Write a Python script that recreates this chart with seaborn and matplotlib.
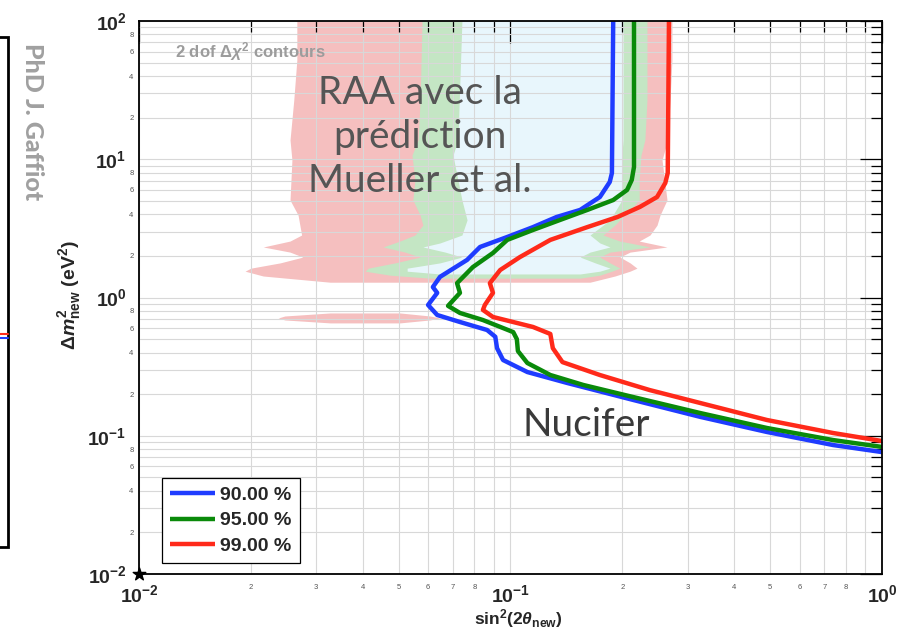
import numpy as np
import pandas as pd
import matplotlib
matplotlib.use("Agg")
import matplotlib.pyplot as plt
import seaborn as sns
from matplotlib.lines import Line2D
from matplotlib.patches import Rectangle

# ---------------- data ----------------
x_lim = [0.01, 1.0]
y_lim = [0.01, 100.0]

# exclusion curves (Nucifer)
cl_labels = ["90.00 %", "95.00 %", "99.00 %"]
cl_colors = ["#1f3cff", "#0a8a0a", "#ff2a1a"]

c90_x = [0.189, 0.1875, 0.185, 0.174, 0.154, 0.133, 0.115, 0.098, 0.0828, 0.0764, 0.0646, 0.0618,
         0.0635, 0.060, 0.0635, 0.0731, 0.0865, 0.091, 0.092, 0.0955, 0.111, 0.142, 0.214, 0.324,
         0.49, 0.738, 1.0]
c90_y = [100, 7.95, 6.85, 5.33, 4.30, 3.82, 3.23, 2.74, 2.32, 1.87, 1.41, 1.19, 1.08, 0.883,
         0.747, 0.665, 0.582, 0.52, 0.43, 0.353, 0.289, 0.241, 0.1815, 0.137, 0.1065, 0.0857, 0.0762]

c95_x = [0.215, 0.215, 0.212, 0.206, 0.189, 0.161, 0.136, 0.115, 0.098, 0.0897, 0.0792, 0.0718,
         0.0731, 0.0679, 0.0731, 0.0843, 0.1017, 0.1040, 0.1047, 0.111, 0.128, 0.157, 0.214, 0.324,
         0.49, 0.738, 1.0]
c95_y = [100, 8.8, 7.08, 6.0, 5.07, 4.30, 3.64, 3.08, 2.61, 2.10, 1.66, 1.27, 1.08, 0.870, 0.773,
         0.687, 0.562, 0.50, 0.41, 0.336, 0.275, 0.233, 0.1905, 0.146, 0.1138, 0.0931, 0.083]

c99_x = [0.267, 0.265, 0.261, 0.248, 0.223, 0.194, 0.161, 0.128, 0.106, 0.0938, 0.088, 0.0897,
         0.0853, 0.0843, 0.0897, 0.115, 0.1280, 0.130, 0.138, 0.174, 0.237, 0.324, 0.49, 0.738, 1.0]
c99_y = [100, 7.95, 6.73, 5.33, 4.52, 3.82, 3.23, 2.61, 1.96, 1.58, 1.27, 1.08, 0.883, 0.813,
         0.723, 0.612, 0.545, 0.43, 0.341, 0.275, 0.214, 0.1726, 0.130, 0.1047, 0.0916]

# RAA allowed regions (2 dof contours): y levels with left / right edges
raa99_y = [100, 52.2, 26.8, 13.8, 9.88, 5.07, 3.95, 3.34, 2.83, 2.56, 2.32, 2.13, 1.96, 1.78,
           1.63, 1.55, 1.43, 1.29]
raa99_left = [0.0266, 0.0266, 0.0261, 0.0255, 0.0258, 0.0255, 0.0268, 0.0271, 0.0274, 0.0255,
              0.0216, 0.0255, 0.0276, 0.0240, 0.0200, 0.0193, 0.0216, 0.0327]
raa99_right = [0.272, 0.272, 0.2688, 0.265, 0.2558, 0.2638, 0.2527, 0.248, 0.2374, 0.222, 0.2638,
               0.2098, 0.197, 0.2098, 0.219, 0.2098, 0.191, 0.1637]

raa95_y = [100, 26.8, 13.8, 10.7, 7.08, 5.07, 3.95, 3.34, 2.83, 2.56, 2.32, 2.13, 1.96, 1.78,
           1.63, 1.55, 1.45, 1.38]
raa95_left = [0.0578, 0.0571, 0.0564, 0.0543, 0.0553, 0.0546, 0.0571, 0.0581, 0.0553, 0.0504,
              0.0454, 0.052, 0.0571, 0.0489, 0.0414, 0.0406, 0.0474, 0.0607]
raa95_right = [0.233, 0.233, 0.230, 0.2245, 0.222, 0.222, 0.203, 0.191, 0.1775, 0.197, 0.2374,
               0.1853, 0.174, 0.1853, 0.197, 0.1875, 0.174, 0.154]

raa68_y = [100, 13.8, 10.7, 5.07, 3.64, 2.83, 2.48, 2.32, 2.13, 1.96, 1.78, 1.63, 1.55, 1.48]
raa68_left = [0.0740, 0.0722, 0.070, 0.0740, 0.0764, 0.0740, 0.0646, 0.0581, 0.0667, 0.0740,
              0.0646, 0.0527, 0.0527, 0.0646]
raa68_right = [0.2009, 0.2009, 0.1995, 0.1995, 0.1853, 0.1637, 0.174, 0.1853, 0.1637, 0.154,
               0.169, 0.1853, 0.174, 0.154]

island99_y = [0.773, 0.735, 0.711, 0.688, 0.655]
island99_left = [0.0327, 0.0247, 0.0237, 0.0247, 0.0327]
island99_right = [0.0504, 0.0607, 0.0646, 0.0607, 0.0504]

# ticks
x_major = [0.01, 0.1, 1.0]
x_major_labels = [r"$\mathbf{10^{-2}}$", r"$\mathbf{10^{-1}}$", r"$\mathbf{10^{0}}$"]
y_major = [0.01, 0.1, 1.0, 10.0, 100.0]
y_major_labels = [r"$\mathbf{10^{-2}}$", r"$\mathbf{10^{-1}}$", r"$\mathbf{10^{0}}$",
                  r"$\mathbf{10^{1}}$", r"$\mathbf{10^{2}}$"]
minor_digits = [2, 3, 4, 5, 6, 7, 8, 9]
x_minor_shown = [2, 3, 4, 5, 6, 7, 8]
y_minor_shown = [2, 4, 6, 8]

# ---------------- style ----------------
sns.set_style("white")
plt.rcParams['font.family'] = ['Liberation Sans', 'DejaVu Sans']
plt.rcParams['mathtext.fontset'] = 'custom'
plt.rcParams['mathtext.rm'] = 'Liberation Sans:bold'
plt.rcParams['mathtext.bf'] = 'Liberation Sans:bold'
plt.rcParams['mathtext.it'] = 'Liberation Sans:italic:bold'
plt.rcParams['mathtext.sf'] = 'Liberation Sans:bold'

fig = plt.figure(figsize=(9.03, 6.35), dpi=100)
ax = fig.add_axes([139 / 903, 1 - 574 / 635, 743 / 903, 553 / 635])
ax.set_xscale('log')
ax.set_yscale('log')

# allowed regions
ax.fill_betweenx(raa99_y, raa99_left, raa99_right, color='#f5bfbf', lw=0, zorder=1)
ax.fill_betweenx(island99_y, island99_left, island99_right, color='#f5bfbf', lw=0, zorder=1)
ax.fill_betweenx(raa95_y, raa95_left, raa95_right, color='#c4e6c4', lw=0, zorder=1.1)
ax.fill_betweenx(raa68_y, raa68_left, raa68_right, color='#e8f6fc', lw=0, zorder=1.2)

# exclusion curves
df = pd.concat([
    pd.DataFrame({'x': c90_x, 'y': c90_y, 'cl': cl_labels[0]}),
    pd.DataFrame({'x': c95_x, 'y': c95_y, 'cl': cl_labels[1]}),
    pd.DataFrame({'x': c99_x, 'y': c99_y, 'cl': cl_labels[2]}),
], ignore_index=True)
sns.lineplot(data=df, x='x', y='y', hue='cl', palette=dict(zip(cl_labels, cl_colors)),
             sort=False, estimator=None, lw=3.2, ax=ax, zorder=3)
for ln in ax.get_lines():
    ln.set_solid_joinstyle('round')
    ln.set_solid_capstyle('butt')

ax.set_xlim(x_lim)
ax.set_ylim(y_lim)
ax.set_xlabel("")
ax.set_ylabel("")

# ticks
x_minor = [d * 10.0 ** e for e in (-2, -1) for d in minor_digits]
x_minor_lab = [str(d) if d in x_minor_shown else "" for e in (-2, -1) for d in minor_digits]
y_minor = [d * 10.0 ** e for e in (-2, -1, 0, 1) for d in minor_digits]
y_minor_lab = [str(d) if d in y_minor_shown else "" for e in (-2, -1, 0, 1) for d in minor_digits]
ax.set_xticks(x_major, x_major_labels)
ax.set_xticks(x_minor, x_minor_lab, minor=True)
ax.set_yticks(y_major, y_major_labels)
ax.set_yticks(y_minor, y_minor_lab, minor=True)
ax.tick_params(which='both', direction='in', top=True, right=True, color='black', width=0.9)
ax.tick_params(which='major', length=15.5, labelsize=14)
ax.tick_params(which='minor', length=8, labelsize=5.5, labelcolor='#555555')
ax.tick_params(axis='y', which='major', pad=9)
ax.tick_params(axis='y', which='minor', pad=4)
ax.tick_params(axis='x', which='major', pad=7)
ax.tick_params(axis='x', which='minor', pad=7)
ax.grid(True, which='both', color='#d8d8d8', lw=0.8)
ax.set_axisbelow(False)
for sp in ax.spines.values():
    sp.set_color('black')
    sp.set_linewidth(1.3)
    sp.set_zorder(4)

ax.scatter([x_lim[0]], [y_lim[0]], marker='*', s=90, color='black', clip_on=False, zorder=5)

# legend
h, l = ax.get_legend_handles_labels()
leg = ax.legend(h, l, loc='lower left', bbox_to_anchor=(0.031, 0.02), borderaxespad=0,
                frameon=True, fancybox=False, edgecolor='black', framealpha=1,
                prop={'family': 'Liberation Sans', 'weight': 'bold', 'size': 14},
                handlelength=2.3, handletextpad=0.3, labelspacing=0.42,
                borderpad=0.4, title=None)
leg.get_frame().set_linewidth(0.9)
leg.set_zorder(6)

# annotations
ax.text(0.048, 0.944, r"2 dof $\Delta\chi^{2}$ contours", transform=ax.transAxes,
        color='#9c9c9c', fontsize=12, fontweight='bold', ha='left', va='center', zorder=6)
fig.text(420 / 903, 1 - 137 / 635, "RAA avec la\nprédiction\nMueller et al.",
         family=['Lato', 'DejaVu Sans'], fontsize=28, color='#555555', ha='center',
         va='center', linespacing=1.28)
fig.text(586 / 903, 1 - 425 / 635, "Nucifer", family=['Lato', 'DejaVu Sans'], fontsize=28,
         color='#3a3a3a', ha='center', va='center')
fig.text(32 / 903, 1 - 122 / 635, "PhD J. Gaffiot", rotation=-90,
         family=['Lato', 'DejaVu Sans'], fontweight='black', fontsize=18, color='#a0a0a0',
         ha='center', va='center')
fig.text(70 / 903, 1 - 295 / 635, r"$\Delta m^{2}_{\mathrm{new}}$ (eV$^{2}$)", rotation=90,
         fontsize=14, fontweight='bold', ha='center', va='center')
fig.text(518 / 903, 1 - 619 / 635, r"sin$^{2}$(2$\theta_{\mathrm{new}}$)", fontsize=12.5,
         fontweight='bold', ha='center', va='center')

# left slide frame fragment
fig.add_artist(Rectangle((-0.05, 1 - 547 / 635), 0.05 + 8 / 903, 510 / 635,
                         transform=fig.transFigure, fill=False, ec='black', lw=2))
fig.add_artist(Line2D([0, 8 / 903], [1 - 334 / 635] * 2, transform=fig.transFigure,
                      color='#ff2a1a', lw=1.5))
fig.add_artist(Line2D([0, 8 / 903], [1 - 338 / 635] * 2, transform=fig.transFigure,
                      color='#1f3cff', lw=1.5))

fig.savefig("out.png", dpi=100)
